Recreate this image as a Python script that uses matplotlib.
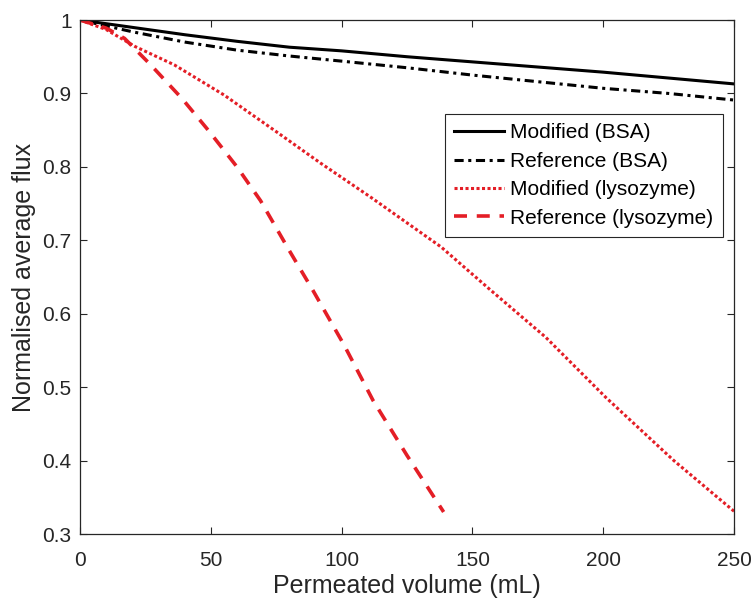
import matplotlib
matplotlib.use("Agg")
import matplotlib.pyplot as plt
from matplotlib.ticker import FuncFormatter

# values
mod_bsa_x = [0, 10, 20, 40, 60, 80, 100, 125, 150, 175, 200, 225, 250]
mod_bsa_y = [1.0, 0.995, 0.990, 0.980, 0.971, 0.963, 0.958, 0.950, 0.943, 0.936, 0.929, 0.921, 0.913]

ref_bsa_x = [0, 10, 20, 40, 60, 80, 100, 125, 150, 175, 200, 225, 250]
ref_bsa_y = [1.0, 0.992, 0.984, 0.970, 0.959, 0.951, 0.944, 0.935, 0.925, 0.916, 0.907, 0.900, 0.891]

mod_lys_x = [0, 10, 21, 36, 55, 75, 92, 111, 138, 157, 178, 201, 227, 250]
mod_lys_y = [1.0, 0.987, 0.964, 0.939, 0.898, 0.848, 0.805, 0.759, 0.691, 0.632, 0.568, 0.486, 0.400, 0.331]

ref_lys_x = [0, 10, 17, 27, 39, 49, 60, 69, 80, 89, 101, 112, 125, 139]
ref_lys_y = [1.0, 0.989, 0.975, 0.939, 0.893, 0.850, 0.800, 0.754, 0.686, 0.632, 0.557, 0.482, 0.407, 0.330]

x_ticks = [0, 50, 100, 150, 200, 250]
y_ticks = [0.3, 0.4, 0.5, 0.6, 0.7, 0.8, 0.9, 1.0]

plt.rcParams["font.family"] = ["Liberation Sans", "DejaVu Sans"]
plt.rcParams["font.size"] = 15

INK = "#262626"
RED = "#e41e26"

fig = plt.figure(figsize=(7.52, 6.03), dpi=100)
ax = fig.add_axes([0.1064, 0.1144, 0.8697, 0.8524])

ax.plot(mod_bsa_x, mod_bsa_y, color="black", lw=2.2, label="Modified (BSA)")
ax.plot(ref_bsa_x, ref_bsa_y, color="black", lw=2.2, linestyle=(0, (3, 1.5, 1, 1.5)),
        label="Reference (BSA)")
ax.plot(mod_lys_x, mod_lys_y, color=RED, lw=2.2, linestyle=(0, (1, 0.8)),
        label="Modified (lysozyme)")
ax.plot(ref_lys_x, ref_lys_y, color=RED, lw=2.6, linestyle=(0, (3.6, 2.7)),
        label="Reference (lysozyme)")

ax.set_xlim(0, 250)
ax.set_ylim(0.3, 1.0)
ax.set_xticks(x_ticks)
ax.set_yticks(y_ticks)
ax.yaxis.set_major_formatter(FuncFormatter(lambda v, p: f"{v:g}"))
ax.tick_params(direction="in", top=True, right=True, length=5, width=0.8,
               colors=INK, labelsize=15)
ax.tick_params(axis="x", pad=12)
ax.tick_params(axis="y", pad=6)
for sp in ax.spines.values():
    sp.set_color(INK)
    sp.set_linewidth(0.9)

ax.set_xlabel("Permeated volume (mL)", fontsize=18, color=INK, labelpad=3)
ax.set_ylabel("Normalised average flux", fontsize=18, color=INK, labelpad=5)

leg = ax.legend(loc="upper right", bbox_to_anchor=(0.983, 0.817), fancybox=False,
                edgecolor=INK, framealpha=1, fontsize=15, handlelength=2.4,
                handletextpad=0.3, labelspacing=0.45, borderpad=0.45,
                borderaxespad=0)
leg.get_frame().set_linewidth(0.8)

fig.savefig("out.png", dpi=100)
